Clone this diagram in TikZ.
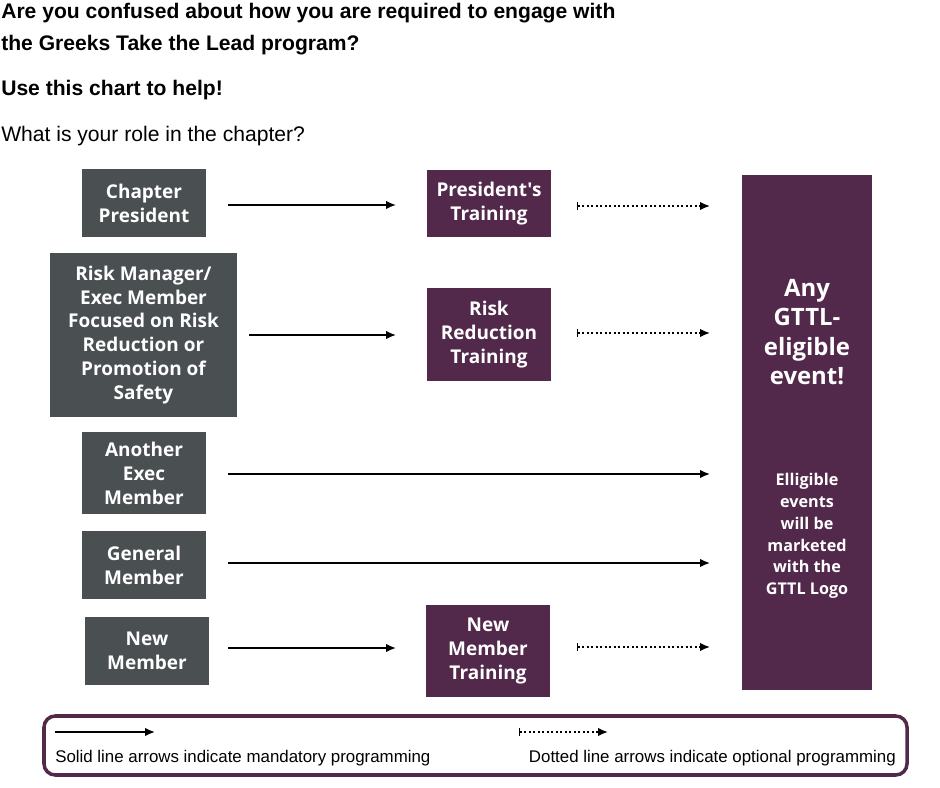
\documentclass[tikz,border=0pt]{standalone}
\usepackage{fontspec}
\setmainfont{Liberation Sans}
\newfontfamily\boxfont{Open Sans}
\usetikzlibrary{positioning,arrows.meta}
\definecolor{roleGrey}{HTML}{4A4F52}
\definecolor{gttlPurple}{HTML}{52284B}
\begin{document}
\begin{tikzpicture}
	[x=0.025cm,y=-0.025cm,
	 role/.style={fill=roleGrey,text=white,font=\boxfont\bfseries\fontsize{13.5}{17}\selectfont,align=center,inner sep=0pt},
	 train/.style={role,fill=gttlPurple},
	 must/.style={draw,line width=1.2pt,-{Latex[length=7pt,width=6pt]}},
	 maybe/.style={draw,line width=1.2pt,dotted,{Bar[width=6pt,line width=0.8pt]}-{Latex[length=7pt,width=6pt]}},
	]
	\useasboundingbox (0,0) rectangle (940,788);
	% heading
	\node[anchor=north west,align=left,inner sep=0pt,font=\bfseries\fontsize{15}{22.5}\selectfont] (title) at (1,3) {Are you confused about how you are required to engage with\\the Greeks Take the Lead program?};
	\node[anchor=west,inner sep=0pt,font=\bfseries\fontsize{15}{18}\selectfont] (use) at (1,90) {Use this chart to help!};
	\node[anchor=west,inner sep=0pt,font=\fontsize{15}{18}\selectfont] (ask) at (1,136) {What is your role in the chapter?};
	
	% roles
	\node[role,minimum width=124*0.025cm,minimum height=68*0.025cm] (pres) at (144,203) {Chapter\\President};
	\node[role,minimum width=187*0.025cm,minimum height=164*0.025cm] (risk) at (143.5,335) {Risk Manager/\\Exec Member\\Focused on Risk\\Reduction or\\Promotion of\\Safety};
	\node[role,minimum width=124*0.025cm,minimum height=82*0.025cm] (exec) at (144,473) {Another\\Exec\\Member};
	\node[role,minimum width=124*0.025cm,minimum height=68*0.025cm] (gen) at (144,565) {General\\Member};
	\node[role,minimum width=124*0.025cm,minimum height=68*0.025cm] (new) at (147,651) {New\\Member};
	
	% trainings
	\node[train,minimum width=124*0.025cm,minimum height=67*0.025cm] (prestr) at (489,203.5) {President's\\Training};
	\node[train,minimum width=124*0.025cm,minimum height=93*0.025cm] (risktr) at (489,334.5) {Risk\\Reduction\\Training};
	\node[train,minimum width=124*0.025cm,minimum height=92*0.025cm] (newtr) at (488,651) {New\\Member\\Training};
	
	% event column
	\node[fill=gttlPurple,minimum width=130*0.025cm,minimum height=515*0.025cm,inner sep=0pt] (event) at (807,432.5) {};
	\node[text=white,align=center,font=\boxfont\bfseries\fontsize{17}{21}\selectfont] (any) at (807,332) {Any\\GTTL-\\eligible\\event!};
	\node[text=white,align=center,font=\boxfont\bfseries\fontsize{11.5}{15.5}\selectfont] (note) at (807,536) {Elligible\\events\\will be\\marketed\\with the\\GTTL Logo};
	
	% arrow ends
	\coordinate (p1) at (228,205);  \coordinate (p2) at (396,205);
	\coordinate (r1) at (249,335);  \coordinate (r2) at (396,335);
	\coordinate (n1) at (228,648);  \coordinate (n2) at (396,648);
	\coordinate (e1) at (228,474);  \coordinate (e2) at (710,474);
	\coordinate (g1) at (228,563);  \coordinate (g2) at (710,563);
	\coordinate (pd1) at (577,206); \coordinate (pd2) at (710,206);
	\coordinate (rd1) at (577,333); \coordinate (rd2) at (710,333);
	\coordinate (nd1) at (577,647); \coordinate (nd2) at (710,647);
	\path[must] (p1) -- (p2);
	\path[must] (r1) -- (r2);
	\path[must] (n1) -- (n2);
	\path[must] (e1) -- (e2);
	\path[must] (g1) -- (g2);
	\path[maybe] (pd1) -- (pd2);
	\path[maybe] (rd1) -- (rd2);
	\path[maybe] (nd1) -- (nd2);
	
	% legend
	\node[draw=gttlPurple,line width=2.5pt,rounded corners=8pt,minimum width=863*0.025cm,minimum height=59*0.025cm] (key) at (475.5,745.5) {};
	\coordinate (ls1) at (55,732);  \coordinate (ls2) at (155,732);
	\coordinate (ld1) at (519,732); \coordinate (ld2) at (608,732);
	\path[must] (ls1) -- (ls2);
	\path[maybe] (ld1) -- (ld2);
	\node[anchor=west,inner sep=0pt,font=\fontsize{12}{14}\selectfont] (solidtxt) at (55,758) {Solid line arrows indicate mandatory programming};
	\node[anchor=east,inner sep=0pt,font=\fontsize{12}{14}\selectfont] (dottxt) at (896,758) {Dotted line arrows indicate optional programming};
\end{tikzpicture}
\end{document}
